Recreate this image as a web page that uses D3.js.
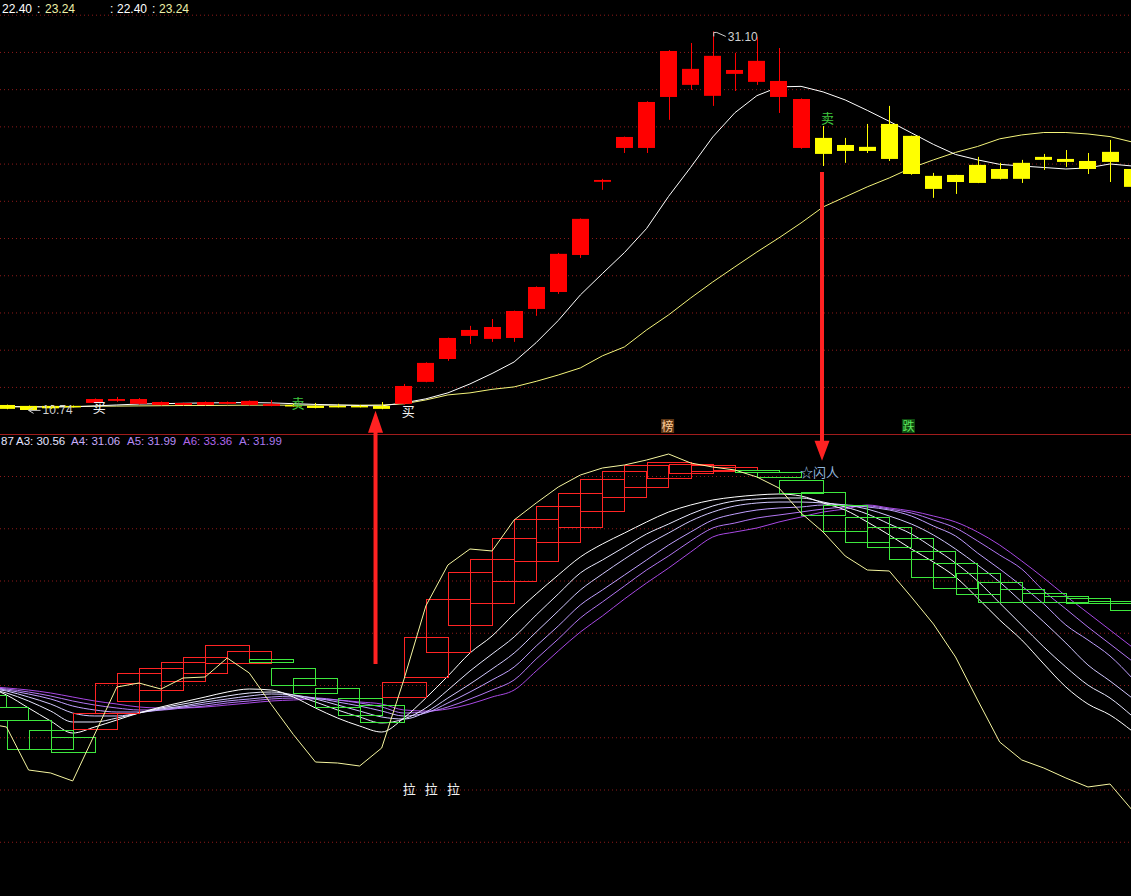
<!DOCTYPE html>
<html><head><meta charset="utf-8">
<script src="https://cdn.jsdelivr.net/npm/d3@7"></script>
<style>html,body{margin:0;padding:0;background:#000;overflow:hidden}svg{display:block}</style>
</head><body>
<svg id="c" width="1131" height="896"></svg>
<script>
// ---------- DATA ----------
const bars = d3.range(-1, 52); // bar indices (-1 partly off-screen)
const open = [
10.98, 11.03, 10.98, 10.98, 10.98, 11.14, 11.25, 11.09, 11.03, 11.03,
11.03, 11.09, 11.03, 10.98, 11.03, 10.98, 10.98, 10.98, 10.98, 11.09,
12.27, 13.50, 14.74, 14.58, 14.63, 16.19, 17.10, 19.09, 23.02, 24.84,
24.84, 27.58, 28.23, 27.64, 28.82, 28.39, 27.58, 24.84, 25.38, 25.00,
24.90, 26.13, 25.49, 23.34, 23.39, 23.93, 23.71, 24.04, 24.36, 24.25,
24.14, 24.63, 23.71];
const high = [
11.03, 11.05, 11.00, 11.03, 11.00, 11.38, 11.46, 11.40, 11.22, 11.16,
11.22, 11.22, 11.27, 11.30, 11.09, 11.14, 11.09, 11.03, 11.19, 12.16,
13.32, 14.65, 15.28, 15.65, 16.10, 17.40, 19.20, 21.05, 23.18, 25.45,
27.35, 30.10, 30.48, 31.10, 29.95, 30.81, 30.21, 27.50, 26.02, 25.38,
26.13, 27.10, 25.50, 23.50, 23.40, 24.36, 24.04, 24.20, 24.52, 24.73,
24.57, 25.27, 23.80];
const low = [
10.87, 10.80, 10.74, 10.82, 10.90, 11.12, 11.20, 11.05, 11.00, 11.00,
11.00, 11.06, 11.00, 10.96, 10.95, 10.85, 10.90, 10.90, 10.80, 11.05,
12.25, 13.40, 14.31, 14.42, 14.42, 15.82, 17.00, 18.93, 22.59, 24.57,
24.57, 26.35, 27.96, 27.10, 27.90, 28.23, 26.72, 24.80, 23.87, 24.04,
24.57, 24.14, 23.40, 22.16, 22.37, 22.95, 23.15, 22.96, 23.66, 23.82,
23.44, 23.01, 22.70];
const close = [
10.93, 10.82, 10.76, 10.85, 10.93, 11.35, 11.35, 11.35, 11.19, 11.14,
11.19, 11.19, 11.25, 11.09, 10.98, 10.87, 10.93, 10.93, 10.82, 12.05,
13.29, 14.63, 15.06, 15.22, 16.08, 17.37, 19.15, 21.03, 23.12, 25.43,
27.31, 30.05, 29.09, 29.79, 29.03, 29.52, 28.44, 27.47, 24.52, 24.68,
24.68, 24.25, 23.44, 22.64, 23.01, 22.96, 23.18, 23.18, 24.20, 24.09,
23.71, 24.09, 22.75];
const maFast = [
10.95, 10.95, 10.93, 10.92, 10.93, 10.98, 11.03, 11.08, 11.10, 11.12,
11.14, 11.15, 11.16, 11.14, 11.10, 11.06, 11.03, 11.00, 10.98, 11.14,
11.36, 11.68, 12.16, 12.72, 13.34, 14.38, 15.57, 16.94, 18.09, 19.22,
20.51, 22.24, 23.80, 25.43, 26.73, 27.65, 28.12, 28.15, 27.85, 27.42,
26.86, 26.27, 25.65, 25.03, 24.49, 24.20, 23.96, 23.87, 23.79, 23.71,
23.77, 23.98, 23.87];
const maSlow = [
10.93, 10.93, 10.93, 10.94, 10.95, 10.96, 10.97, 10.98, 10.99, 11.00,
11.00, 11.01, 11.02, 11.02, 11.02, 11.02, 11.02, 11.02, 11.03, 11.09,
11.30, 11.57, 11.68, 11.87, 12.00, 12.30, 12.64, 13.02, 13.67, 14.15,
15.06, 15.87, 16.78, 17.64, 18.45, 19.25, 20.01, 20.81, 21.67, 22.21,
22.75, 23.23, 23.77, 24.20, 24.60, 24.92, 25.33, 25.54, 25.67, 25.67,
25.59, 25.45, 25.16];
// lower panel indicator
const kLine = [
32.73, 31.96, 23.73, 23.16, 21.63, 30.62, 39.62, 40.38, 39.23, 41.34,
41.53, 45.17, 42.30, 36.27, 30.51, 25.26, 25.07, 24.50, 27.94, 40.96,
55.12, 62.97, 66.03, 65.65, 71.58, 74.83, 77.89, 80.19, 81.53, 82.11,
83.06, 84.21, 82.49, 81.72, 81.15, 79.81, 77.70, 72.92, 69.28, 64.69,
62.01, 61.82, 56.84, 51.67, 45.36, 37.13, 29.09, 25.65, 24.11, 22.20,
20.48, 21.05, 16.08];
const a1 = [
39.81, 38.09, 35.60, 33.11, 30.81, 31.96, 33.30, 34.64, 35.79, 36.75,
37.70, 38.66, 39.23, 39.04, 37.70, 35.60, 33.68, 32.15, 31.00, 33.68,
37.51, 41.72, 46.12, 49.38, 53.59, 57.42, 61.05, 64.50, 66.99, 69.09,
71.20, 73.11, 74.45, 75.41, 75.98, 76.36, 76.56, 76.17, 74.83, 73.49,
71.20, 68.71, 66.03, 63.54, 60.67, 56.65, 52.44, 48.61, 44.02, 39.62,
36.36, 34.26, 31.20];
const a2 = [
39.43, 38.47, 36.94, 35.02, 32.92, 32.92, 33.68, 34.64, 35.60, 36.36,
37.13, 37.89, 38.47, 38.66, 38.09, 36.75, 35.22, 33.88, 32.73, 33.49,
35.60, 39.04, 42.68, 45.93, 49.19, 53.40, 57.42, 61.44, 63.92, 66.41,
68.90, 70.81, 72.73, 74.26, 75.22, 75.60, 75.79, 75.79, 75.02, 74.07,
72.73, 70.81, 68.90, 66.22, 63.35, 59.90, 55.69, 51.48, 47.27, 43.44,
39.98, 37.51, 34.07];
const a3 = [
39.43, 38.85, 37.70, 36.36, 34.64, 34.07, 34.07, 34.64, 35.41, 35.98,
36.75, 37.32, 37.89, 38.28, 38.09, 37.32, 36.17, 35.02, 33.88, 33.49,
34.83, 37.51, 40.19, 43.06, 46.12, 50.14, 54.16, 58.18, 61.24, 64.11,
66.79, 69.09, 71.39, 73.11, 74.26, 74.83, 75.02, 75.02, 74.83, 74.45,
73.68, 72.34, 70.81, 68.71, 66.03, 62.97, 59.71, 55.89, 52.06, 48.04,
43.83, 40.77, 37.51];
const a4 = [
39.62, 39.04, 38.28, 37.32, 35.98, 35.22, 34.83, 34.83, 35.22, 35.79,
36.36, 36.94, 37.32, 37.70, 37.89, 37.51, 36.75, 35.98, 35.02, 34.07,
34.64, 36.56, 38.66, 40.96, 43.44, 47.46, 51.29, 55.31, 58.18, 61.05,
63.92, 66.79, 69.28, 71.58, 72.73, 73.49, 73.88, 74.07, 74.45, 74.45,
74.07, 73.49, 72.34, 70.43, 68.52, 65.26, 62.20, 58.95, 55.50, 51.48,
48.61, 45.55, 41.34];
const a5 = [
39.62, 39.23, 38.66, 37.89, 36.94, 36.17, 35.60, 35.22, 35.22, 35.60,
35.98, 36.56, 36.94, 37.32, 37.51, 37.51, 37.13, 36.56, 35.79, 34.64,
34.83, 35.79, 37.32, 39.04, 40.96, 44.98, 48.80, 52.82, 55.89, 58.95,
62.01, 64.69, 67.56, 70.05, 71.00, 71.96, 72.54, 73.11, 73.68, 74.07,
74.26, 73.68, 72.92, 71.58, 70.05, 67.56, 64.88, 62.20, 57.99, 54.55,
51.10, 47.85, 44.59];
const a6 = [
39.81, 39.43, 39.04, 38.47, 37.70, 36.94, 36.36, 35.79, 35.60, 35.60,
35.79, 36.17, 36.56, 36.94, 37.13, 37.32, 37.13, 36.75, 36.36, 35.22,
35.02, 35.41, 36.36, 37.70, 39.04, 42.68, 46.51, 50.14, 53.21, 56.46,
59.52, 62.39, 65.45, 68.33, 69.28, 70.05, 71.20, 72.15, 73.11, 73.68,
74.45, 73.88, 73.30, 72.34, 71.20, 69.28, 66.79, 63.73, 60.48, 57.03,
53.78, 50.53, 47.27];
const boxOpen = [
38.09, 35.79, 33.30, 31.39, 30.05, 31.58, 34.64, 36.94, 39.04, 40.77,
42.30, 44.21, 44.21, 44.98, 43.25, 41.34, 39.43, 37.51, 36.17, 37.70,
41.53, 46.32, 51.48, 55.69, 59.90, 63.73, 67.37, 70.24, 73.30, 75.98,
77.89, 79.62, 80.57, 80.96, 81.15, 81.15, 80.77, 79.23, 76.94, 74.45,
72.15, 70.24, 68.13, 65.65, 63.35, 61.44, 59.71, 58.37, 57.61, 57.03,
56.65, 56.08, 55.69];
const boxClose = [
35.79, 33.30, 27.75, 27.75, 27.18, 34.64, 40.38, 42.30, 43.25, 44.40,
45.36, 47.66, 46.51, 44.40, 40.00, 38.47, 35.79, 34.26, 32.92, 40.57,
49.19, 56.46, 61.63, 64.11, 68.13, 71.77, 74.26, 76.75, 79.43, 80.96,
82.11, 82.68, 82.30, 82.11, 81.72, 80.77, 79.81, 76.75, 72.54, 69.47,
67.37, 66.41, 64.11, 60.67, 58.56, 57.42, 55.89, 55.89, 55.89, 55.89,
55.69, 55.69, 54.35];
const priceTicks = [12, 14, 16, 18, 20, 22, 24, 26, 28, 30, 32];
const indTicks = [10, 20, 30, 40, 50, 60, 70, 80];
const signalsTop = [
  {bar: 4, price: 10.93, text: "买", color: "#f2f2f2"},
  {bar: 13, price: 11.14, text: "卖", color: "#3fc83f"},
  {bar: 18, price: 10.71, text: "买", color: "#f2f2f2"},
  {bar: 37, price: 26.48, text: "卖", color: "#3fc83f"}
];
const badges = [
  {bar: 30, price: 9.90, dx: -1, text: "榜", color: "#ffcf9a", bg: "#5c3514"},
  {bar: 41, price: 9.90, dx: -3, text: "跌", color: "#5ee85e", bg: "#0f4a10"}
];
const signalsLow = [
  {bar: 18, value: 20.1, text: "拉", color: "#f2f2f2"},
  {bar: 19, value: 20.1, text: "拉", color: "#f2f2f2"},
  {bar: 20, value: 20.1, text: "拉", color: "#f2f2f2"},
  {bar: 36, value: 80.9, text: "☆闪人", color: "#8fb6dc"}
];
const upArrow = {bar: 16.72, tipPrice: 10.72, tailValue: 44.0};
const downArrow = {bar: 36.95, fromPrice: 23.55, tipValue: 82.9};
const lowMark = {bar: 1, price: 10.74, label: "10.74"};
const highMark = {bar: 32, price: 31.10, label: "31.10"};
const topHeader = [
  {x: 2, text: "22.40", color: "#ffffff"}, {x: 37, text: ":", color: "#ffffff"},
  {x: 45, text: "23.24", color: "#eef0a8"},
  {x: 110, text: ":", color: "#ffffff"}, {x: 117, text: "22.40", color: "#ffffff"},
  {x: 152, text: ":", color: "#ffffff"}, {x: 159, text: "23.24", color: "#eef0a8"}
];
const lowHeader = [
  {x: 1, text: "87", color: "#e4e4ff"},
  {x: 16, text: "A3: 30.56", color: "#e4e4ff"},
  {x: 71, text: "A4: 31.06", color: "#c9aefc"},
  {x: 127, text: "A5: 31.99", color: "#b78cf6"},
  {x: 183, text: "A6: 33.36", color: "#b066ea"},
  {x: 239, text: "A: 31.99", color: "#a978ee"}
];
const aColors = ["#ffffff", "#e8e8ff", "#d2c8ff", "#c0a0ff", "#b276f2", "#a848e4"];

// ---------- DRAW ----------
const W = 1131, H = 896, SPLIT = 434;
const svg = d3.select("#c");
svg.append("rect").attr("width", W).attr("height", H).attr("fill", "#000");
const defs = svg.append("defs");
defs.append("clipPath").attr("id", "ct").append("rect").attr("x", 0).attr("y", 0).attr("width", W).attr("height", SPLIT);
defs.append("clipPath").attr("id", "cb").append("rect").attr("x", 0).attr("y", SPLIT + 1).attr("width", W).attr("height", H - SPLIT - 1);

const x = d3.scaleLinear().domain([0, 51]).range([6.5, 1132.1]);
const step = x(1) - x(0);
const yP = d3.scaleLinear().domain([9.47, 32.79]).range([SPLIT, 0]);
const yI = d3.scaleLinear().domain([0, 100]).range([894, 371.5]);
const idx = d3.range(bars.length);

// grids
const gp = svg.append("g").call(d3.axisRight(yP).tickValues(priceTicks).tickSize(W).tickFormat(""));
gp.select(".domain").remove();
gp.selectAll("line").attr("stroke", "#8e1a1a").attr("stroke-dasharray", "1,3");
const gi = svg.append("g").call(d3.axisRight(yI).tickValues(indTicks).tickSize(W).tickFormat(""));
gi.select(".domain").remove();
gi.selectAll("line").attr("stroke", "#8e1a1a").attr("stroke-dasharray", "1,3");

// separator
svg.append("line").attr("x1", 0).attr("x2", W).attr("y1", SPLIT + 0.5).attr("y2", SPLIT + 0.5)
  .attr("stroke", "#a01c1c").attr("stroke-width", 1);

// ----- top panel -----
const gTop = svg.append("g").attr("clip-path", "url(#ct)");
const lineP = arr => d3.line().x(i => x(bars[i])).y(i => yP(arr[i]))(idx);
gTop.append("path").attr("d", lineP(maSlow)).attr("fill", "none").attr("stroke", "#f4f47a").attr("stroke-width", 1);
gTop.append("path").attr("d", lineP(maFast)).attr("fill", "none").attr("stroke", "#ffffff").attr("stroke-width", 1);
const RED = "#ff0000", YEL = "#ffff00";
const col = i => close[i] >= open[i] ? RED : YEL;
gTop.selectAll("line.wick").data(idx).join("line").attr("class", "wick")
  .attr("x1", i => Math.round(x(bars[i])) + 0.5).attr("x2", i => Math.round(x(bars[i])) + 0.5)
  .attr("y1", i => yP(high[i])).attr("y2", i => yP(low[i]))
  .attr("stroke", col).attr("stroke-width", 1);
gTop.selectAll("rect.body").data(idx).join("rect").attr("class", "body")
  .attr("x", i => Math.round(x(bars[i]) - 8.5)).attr("width", 17)
  .attr("y", i => yP(Math.max(open[i], close[i])))
  .attr("height", i => Math.max(1.5, Math.abs(yP(open[i]) - yP(close[i]))))
  .attr("fill", col);

// signals
gTop.selectAll("text.sig").data(signalsTop).join("text").attr("class", "sig")
  .attr("x", d => x(d.bar) - 2).attr("y", d => yP(d.price))
  .attr("dominant-baseline", "central")
  .attr("font-family", "'Noto Sans CJK SC', sans-serif").attr("font-size", 13)
  .attr("fill", d => d.color).text(d => d.text);
badges.forEach(d => {
  const cx = x(d.bar) + d.dx, cy = yP(d.price);
  gTop.append("rect").attr("x", cx - 6.5).attr("y", cy - 7).attr("width", 13).attr("height", 14).attr("fill", d.bg);
  gTop.append("text").attr("x", cx).attr("y", cy).attr("text-anchor", "middle").attr("dominant-baseline", "central")
    .attr("font-family", "'Noto Sans CJK SC', sans-serif").attr("font-size", 12).attr("fill", d.color).text(d.text);
});
// low / high marks
{
  const lx = x(lowMark.bar), ly = yP(lowMark.price);
  gTop.append("path").attr("d", `M${lx + 5},${ly - 3}L${lx},${ly}L${lx + 5},${ly + 3}M${lx},${ly}L${lx + 12},${ly}`)
    .attr("stroke", "#cfcfcf").attr("fill", "none");
  gTop.append("text").attr("x", lx + 14).attr("y", ly + 4).attr("font-family", "'Liberation Sans', Arial, sans-serif")
    .attr("font-size", 12).attr("fill", "#cfcfcf").text(lowMark.label);
  const hx = x(highMark.bar), hy = yP(highMark.price);
  gTop.append("path").attr("d", `M${hx + 1},${hy + 5}L${hx + 1},${hy + 1}L${hx + 4},${hy + 1}L${hx + 13},${hy + 5}`)
    .attr("stroke", "#cfcfcf").attr("fill", "none");
  gTop.append("text").attr("x", hx + 15).attr("y", hy + 10).attr("font-family", "'Liberation Sans', Arial, sans-serif")
    .attr("font-size", 12).attr("fill", "#cfcfcf").text(highMark.label);
}

// ----- bottom panel -----
const gBot = svg.append("g").attr("clip-path", "url(#cb)");
const lineI = arr => d3.line().curve(d3.curveMonotoneX).x(i => x(bars[i])).y(i => yI(arr[i]))(idx);
[a6, a5, a4, a3, a2, a1].forEach((arr, k) => {
  gBot.append("path").attr("d", lineI(arr)).attr("fill", "none")
    .attr("stroke", aColors[5 - k]).attr("stroke-width", 1);
});
const BR = "#ff2424", BG = "#3ee83e";
gBot.selectAll("rect.box").data(idx).join("rect").attr("class", "box")
  .attr("x", i => Math.round(x(bars[i]) - step) + 0.5)
  .attr("width", Math.round(2 * step))
  .attr("y", i => Math.round(yI(Math.max(boxOpen[i], boxClose[i]))) + 0.5)
  .attr("height", i => Math.max(1, Math.round(Math.abs(yI(boxOpen[i]) - yI(boxClose[i])))))
  .attr("fill", "none").attr("stroke-width", 1)
  .attr("stroke", i => boxClose[i] > boxOpen[i] ? BR : BG);
gBot.append("path").attr("d", d3.line().x(i => x(bars[i])).y(i => yI(kLine[i]))(idx))
  .attr("fill", "none").attr("stroke", "#f6f6a0").attr("stroke-width", 1);
gBot.selectAll("text.sl").data(signalsLow).join("text").attr("class", "sl")
  .attr("x", d => x(d.bar) - 1).attr("y", d => yI(d.value))
  .attr("dominant-baseline", "central")
  .attr("font-family", "'Noto Sans CJK SC', sans-serif").attr("font-size", 13)
  .attr("fill", d => d.color).text(d => d.text);

// headers
svg.selectAll("text.th").data(topHeader).join("text").attr("class", "th")
  .attr("x", d => d.x).attr("y", 13).attr("font-family", "'Liberation Sans', Arial, sans-serif")
  .attr("font-size", 12).attr("fill", d => d.color).text(d => d.text);
svg.selectAll("text.lh").data(lowHeader).join("text").attr("class", "lh")
  .attr("x", d => d.x).attr("y", 445).attr("font-family", "'Liberation Sans', Arial, sans-serif")
  .attr("font-size", 11.5).attr("fill", d => d.color).text(d => d.text);

// arrows
const AR = "#ff2222";
{
  const ax = x(upArrow.bar), tip = yP(upArrow.tipPrice), tail = yI(upArrow.tailValue);
  const hb = tip + 22;
  svg.append("path").attr("fill", AR)
    .attr("d", `M${ax},${tip}L${ax + 7.5},${hb}L${ax + 2},${hb}L${ax + 2},${tail}L${ax - 2},${tail}L${ax - 2},${hb}L${ax - 7.5},${hb}Z`);
}
{
  const ax = x(downArrow.bar), from = yP(downArrow.fromPrice), tip = yI(downArrow.tipValue);
  const hb = tip - 20;
  svg.append("path").attr("fill", AR)
    .attr("d", `M${ax - 2},${from}L${ax + 2},${from}L${ax + 2},${hb}L${ax + 7.5},${hb}L${ax},${tip}L${ax - 7.5},${hb}L${ax - 2},${hb}Z`);
}
</script>
</body></html>
